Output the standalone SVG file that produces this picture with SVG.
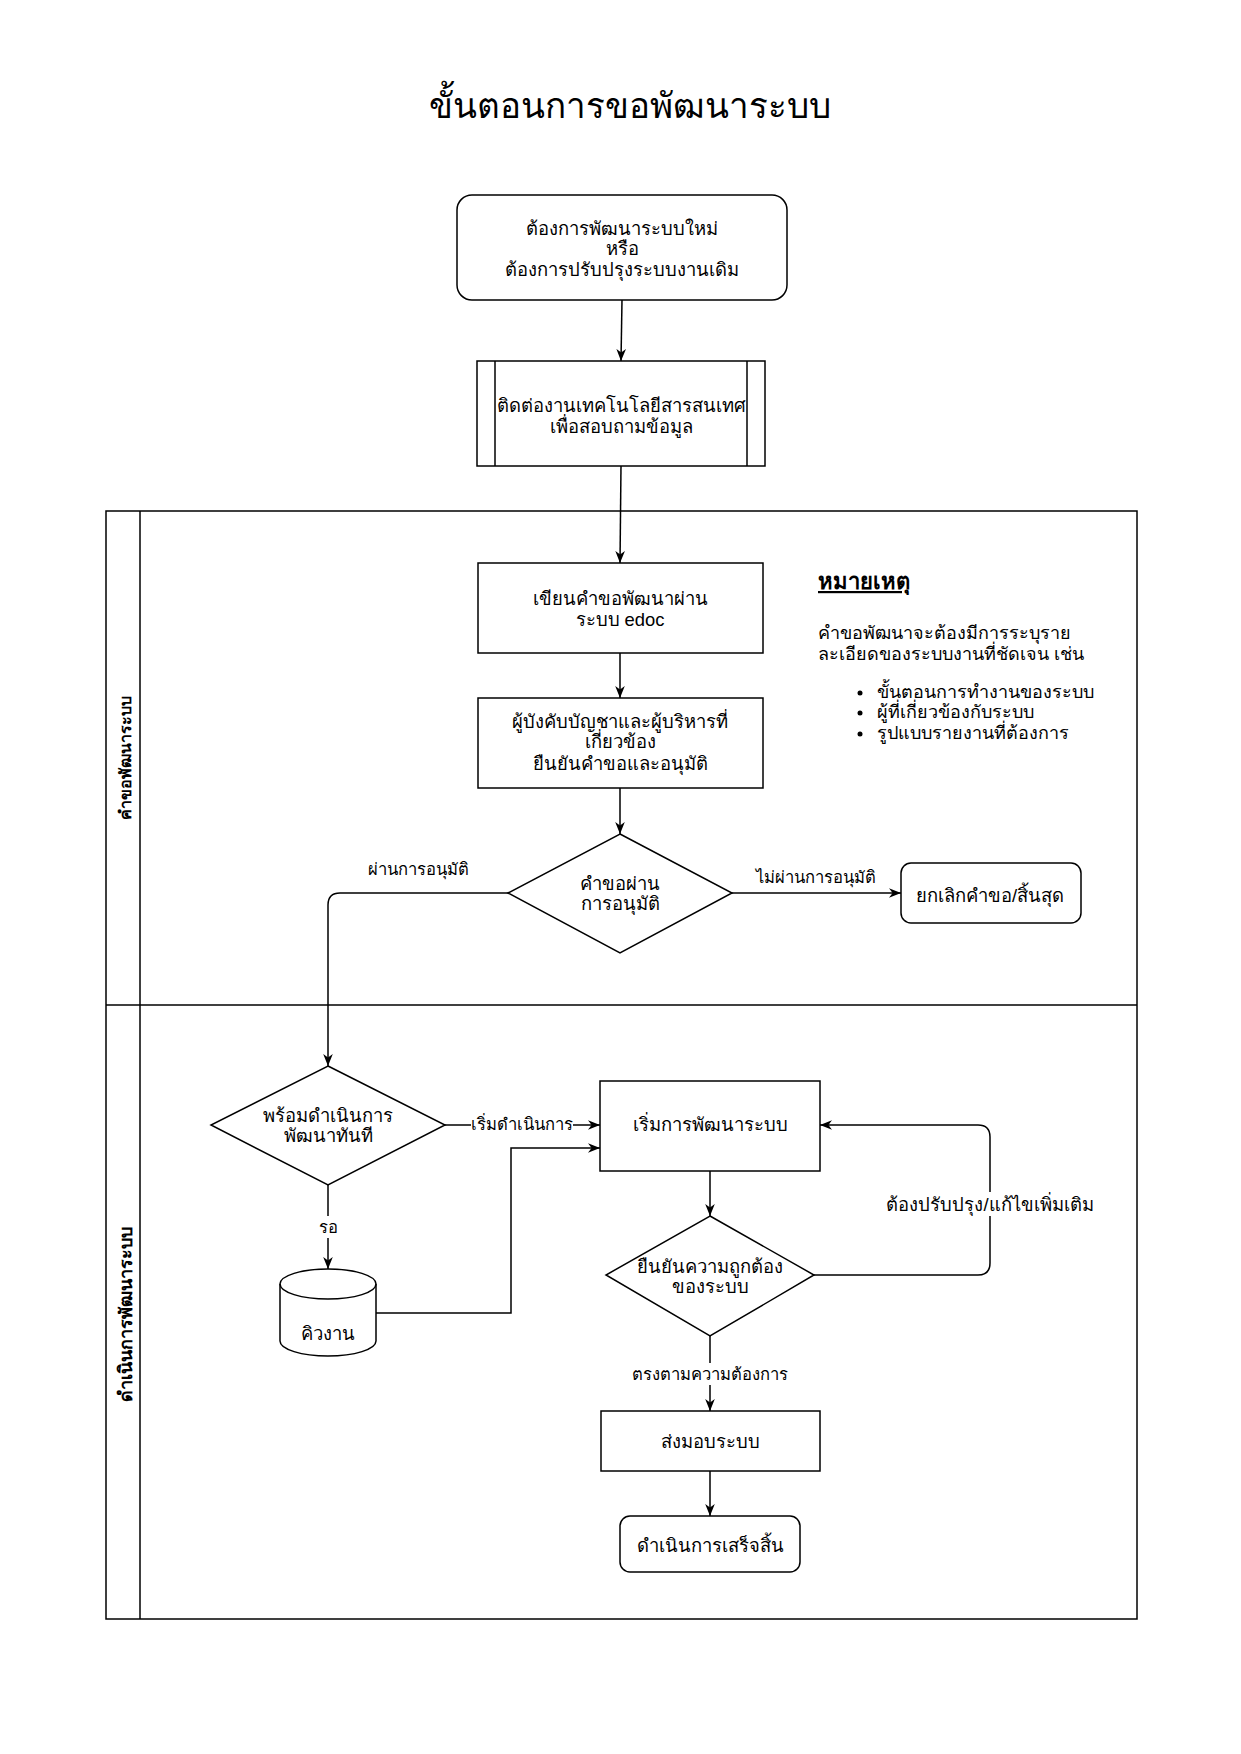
<svg xmlns="http://www.w3.org/2000/svg" width="1241" height="1754" viewBox="0 0 1241 1754">
<style>
text{font-family:"Liberation Sans","Noto Sans",sans-serif;fill:#000;}
.t{font-size:18.4px;text-anchor:middle;}
.lbl{font-size:16.6px;text-anchor:middle;}
.lane{font-size:16px;font-weight:bold;text-anchor:middle;}
.note{font-size:18px;}
.shape{fill:#fff;stroke:#000;stroke-width:1.5;}
.edge{fill:none;stroke:#000;stroke-width:1.5;marker-end:url(#arr);}
.bg{fill:#fff;}
</style>
<defs>
<marker id="arr" viewBox="0 0 10 10" refX="10" refY="5" markerWidth="12" markerHeight="12" markerUnits="userSpaceOnUse" orient="auto">
<path d="M0,1 L10,5 L0,9 L3,5 z" fill="#000"/>
</marker>
</defs>
<rect width="1241" height="1754" fill="#fff"/>
<text x="630" y="118" style="font-size:35px;text-anchor:middle;">ขั้นตอนการขอพัฒนาระบบ</text>

<g id="pool">
<rect x="106" y="511" width="1031" height="1108" fill="none" stroke="#000" stroke-width="1.5"/>
<line x1="140" y1="511" x2="140" y2="1619" stroke="#000" stroke-width="1.5"/>
<line x1="106" y1="1005" x2="1137" y2="1005" stroke="#000" stroke-width="1.5"/>
<text class="lane" transform="translate(131,758) rotate(-90)">คำขอพัฒนาระบบ</text>
<text class="lane" style="font-size:18px;" transform="translate(132,1314) rotate(-90)">ดำเนินการพัฒนาระบบ</text>
</g>

<g id="connectors">
<path class="edge" d="M622,300 L621,361"/>
<path class="edge" d="M621,466 L620,563"/>
<path class="edge" d="M620,653 L620,698"/>
<path class="edge" d="M620,788 L620,834"/>
<path class="edge" d="M732,893 L901,893"/>
<text class="lbl" x="816" y="883">ไม่ผ่านการอนุมัติ</text>
<path class="edge" d="M508,893 L340,893 Q328,893 328,905 L328,1066"/>
<text class="lbl" x="418" y="875">ผ่านการอนุมัติ</text>
<path class="edge" d="M445,1125 L600,1125"/>
<rect class="bg" x="471" y="1114" width="102" height="20"/>
<text class="lbl" x="522" y="1130">เริ่มดำเนินการ</text>
<path class="edge" d="M328,1185 L328,1269"/>
<rect class="bg" x="314" y="1216" width="28" height="22"/>
<text class="lbl" x="328" y="1233">รอ</text>
<path class="edge" d="M376,1313 L511,1313 L511,1148 L600,1148"/>
<path class="edge" d="M710,1171 L710,1216"/>
<path class="edge" d="M814,1275 L978,1275 Q990,1275 990,1263 L990,1137 Q990,1125 978,1125 L820,1125"/>
<rect class="bg" x="886" y="1192" width="208" height="24"/>
<text x="990" y="1211" style="font-size:18.4px;text-anchor:middle;">ต้องปรับปรุง/แก้ไขเพิ่มเติม</text>
<path class="edge" d="M710,1336 L710,1411"/>
<rect class="bg" x="627" y="1363" width="166" height="22"/>
<text class="lbl" x="710" y="1380">ตรงตามความต้องการ</text>
<path class="edge" d="M710,1471 L710,1516"/>
</g>

<g id="start">
<rect class="shape" x="457" y="195" width="330" height="105" rx="15"/>
<text class="t" x="622" y="235">ต้องการพัฒนาระบบใหม่</text>
<text class="t" x="622" y="255">หรือ</text>
<text class="t" x="622" y="276">ต้องการปรับปรุงระบบงานเดิม</text>
</g>

<g id="contact">
<rect class="shape" x="477" y="361" width="288" height="105"/>
<line x1="495" y1="361" x2="495" y2="466" stroke="#000" stroke-width="1.5"/>
<line x1="747" y1="361" x2="747" y2="466" stroke="#000" stroke-width="1.5"/>
<text class="t" x="621" y="412">ติดต่องานเทคโนโลยีสารสนเทศ</text>
<text class="t" x="621" y="433">เพื่อสอบถามข้อมูล</text>
</g>

<g id="edoc">
<rect class="shape" x="478" y="563" width="285" height="90"/>
<text class="t" x="620" y="605">เขียนคำขอพัฒนาผ่าน</text>
<text class="t" x="620" y="626">ระบบ edoc</text>
</g>

<g id="approve">
<rect class="shape" x="478" y="698" width="285" height="90"/>
<text class="t" x="620" y="728">ผู้บังคับบัญชาและผู้บริหารที่</text>
<text class="t" x="620" y="748">เกี่ยวข้อง</text>
<text class="t" x="620" y="770">ยืนยันคำขอและอนุมัติ</text>
</g>

<g id="decision1">
<polygon class="shape" points="620,834 732,893 620,953 508,893"/>
<text class="t" x="620" y="890">คำขอผ่าน</text>
<text class="t" x="620" y="910">การอนุมัติ</text>
</g>

<g id="cancel">
<rect class="shape" x="901" y="863" width="180" height="60" rx="10"/>
<text class="t" x="990" y="902">ยกเลิกคำขอ/สิ้นสุด</text>
</g>

<g id="note">
<text x="818" y="589" style="font-size:22px;font-weight:bold;text-decoration:underline;">หมายเหตุ</text>
<text class="note" x="818" y="639">คำขอพัฒนาจะต้องมีการระบุราย</text>
<text class="note" x="818" y="660">ละเอียดของระบบงานที่ชัดเจน เช่น</text>
<circle cx="860" cy="693" r="2.5" fill="#000"/>
<circle cx="860" cy="713" r="2.5" fill="#000"/>
<circle cx="860" cy="734" r="2.5" fill="#000"/>
<text class="note" x="877" y="698">ขั้นตอนการทำงานของระบบ</text>
<text class="note" x="877" y="718">ผู้ที่เกี่ยวข้องกับระบบ</text>
<text class="note" x="877" y="739">รูปแบบรายงานที่ต้องการ</text>
</g>

<g id="decision2">
<polygon class="shape" points="328,1066 445,1125 328,1185 211,1125"/>
<text class="t" x="328" y="1122">พร้อมดำเนินการ</text>
<text class="t" x="328" y="1142">พัฒนาทันที</text>
</g>

<g id="queue">
<path class="shape" d="M280,1284 A48,15 0 0 1 376,1284 L376,1341 A48,15 0 0 1 280,1341 Z"/>
<path d="M280,1284 A48,15 0 0 0 376,1284" fill="none" stroke="#000" stroke-width="1.5"/>
<text class="t" x="328" y="1340">คิวงาน</text>
</g>

<g id="develop">
<rect class="shape" x="600" y="1081" width="220" height="90"/>
<text class="t" x="710" y="1131">เริ่มการพัฒนาระบบ</text>
</g>

<g id="decision3">
<polygon class="shape" points="710,1216 814,1275 710,1336 606,1275"/>
<text class="t" x="710" y="1273">ยืนยันความถูกต้อง</text>
<text class="t" x="710" y="1293">ของระบบ</text>
</g>

<g id="deliver">
<rect class="shape" x="601" y="1411" width="219" height="60"/>
<text class="t" x="710" y="1448">ส่งมอบระบบ</text>
</g>

<g id="finish">
<rect class="shape" x="620" y="1516" width="180" height="56" rx="10"/>
<text class="t" x="710" y="1552">ดำเนินการเสร็จสิ้น</text>
</g>
</svg>
